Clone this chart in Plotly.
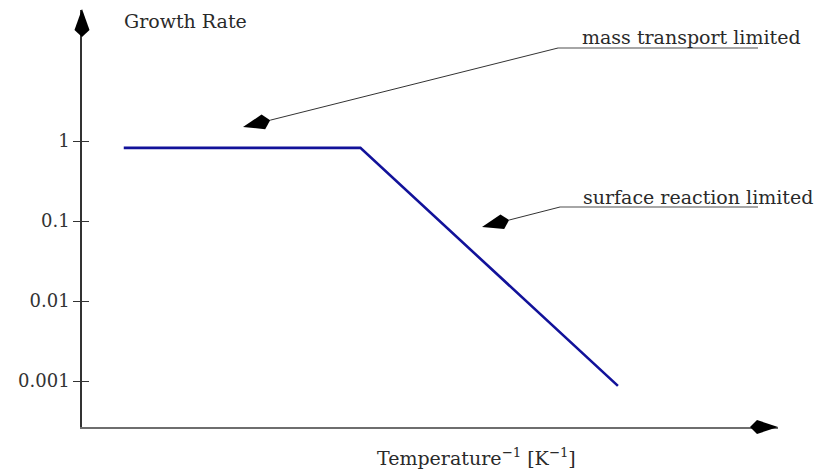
import math
import plotly.graph_objects as go

# ---- data ----
temp_inv = [0.6, 4.0, 7.7]            # arbitrary units of 1/T
growth_rate = [0.82, 0.82, 0.00087]  # growth rate (log scale)
y_tick_vals = [1, 0.1, 0.01, 0.001]
y_tick_text = ["1", "0.1", "0.01", "0.001"]
label_mass = "mass transport limited"
label_surface = "surface reaction limited"

# page body has an 8px default margin; work in screen pixels and convert
OFF = 8
W, H = 833 - OFF, 470 - OFF
PL, PR, PT, PB = 82, 778, 10, 427          # plot area in screen pixels
L, R, T, B = PL - OFF, W - (PR - OFF), PT - OFF, H - (PB - OFF)
PW, PH = PR - PL, PB - PT
FONT = "DejaVu Serif"

def px(x):
    return (x - PL) / PW

def py(y):
    return (PB - y) / PH

def kite(tip, direction, length=28, wide_at=21, half_w=7.5):
    dx, dy = direction
    n = math.hypot(dx, dy)
    dx, dy = dx / n, dy / n
    nx, ny = -dy, dx
    tx, ty = tip
    pts = [
        (tx, ty),
        (tx - wide_at * dx + half_w * nx, ty - wide_at * dy + half_w * ny),
        (tx - length * dx, ty - length * dy),
        (tx - wide_at * dx - half_w * nx, ty - wide_at * dy - half_w * ny),
    ]
    path = "M " + " L ".join(f"{px(a):.5f},{py(b):.5f}" for a, b in pts) + " Z"
    back = (tx - length * dx, ty - length * dy)
    return path, back

fig = go.Figure()
fig.add_trace(go.Scatter(x=temp_inv, y=growth_rate, mode="lines",
                         line=dict(color="#12129a", width=2.6),
                         hoverinfo="skip", showlegend=False))
# invisible trace to anchor second y axis (inner half of the crossing ticks)
fig.add_trace(go.Scatter(x=[temp_inv[0]], y=[growth_rate[0]], yaxis="y2",
                         mode="markers", marker=dict(opacity=0),
                         hoverinfo="skip", showlegend=False))

yr = [-3.575, 1.6375]
fig.update_layout(
    width=W, height=H,
    margin=dict(l=L, r=R, t=T, b=B, autoexpand=False),
    paper_bgcolor="white", plot_bgcolor="white",
    font=dict(family=FONT, size=19, color="#2a2a2a"),
    xaxis=dict(range=[0, 10], showline=True, linecolor="#6e6e6e", linewidth=2,
               showticklabels=False, ticks="", showgrid=False, zeroline=False),
    yaxis=dict(type="log", range=yr, tickvals=y_tick_vals, ticktext=y_tick_text,
               ticks="outside", ticklen=7, tickwidth=1.2, tickcolor="#333",
               showline=True, linecolor="#333", linewidth=1.5,
               showgrid=False, zeroline=False,
               tickfont=dict(family=FONT, size=18, color="#333")),
    yaxis2=dict(type="log", range=yr, overlaying="y", side="left",
                tickvals=y_tick_vals, ticks="inside", ticklen=7, tickwidth=1.2,
                tickcolor="#333", showticklabels=False, showline=False,
                showgrid=False, zeroline=False),
    showlegend=False,
)

shapes = []
# axis arrowheads
p, _ = kite((82, 9), (0, -1))
shapes.append(dict(type="path", path=p, xref="paper", yref="paper",
                   fillcolor="black", line=dict(width=0)))
p, _ = kite((778, 427), (1, 0), half_w=7)
shapes.append(dict(type="path", path=p, xref="paper", yref="paper",
                   fillcolor="black", line=dict(width=0)))

# callouts
for start, tip, end_x in [((558, 48), (243, 127), 758), ((560, 207), (482, 227), 758)]:
    p, back = kite(tip, (tip[0] - start[0], tip[1] - start[1]))
    shapes.append(dict(type="line", xref="paper", yref="paper",
                       x0=px(start[0]), y0=py(start[1]), x1=px(back[0]), y1=py(back[1]),
                       line=dict(color="#333", width=1)))
    shapes.append(dict(type="path", path=p, xref="paper", yref="paper",
                       fillcolor="black", line=dict(width=0)))
    shapes.append(dict(type="line", xref="paper", yref="paper",
                       x0=px(start[0]), y0=py(start[1]), x1=px(end_x), y1=py(start[1]),
                       line=dict(color="#888", width=1.6)))
fig.update_layout(shapes=shapes)

annots = [
    dict(text="Growth Rate", x=px(122), y=py(21), xanchor="left", yanchor="middle"),
    dict(text=label_mass, x=px(580), y=py(37), xanchor="left", yanchor="middle"),
    dict(text=label_surface, x=px(581), y=py(197), xanchor="left", yanchor="middle"),
    dict(text="Temperature<sup>−1</sup> [K<sup>−1</sup>]", x=px(476), y=py(457),
         xanchor="center", yanchor="middle"),
]
for a in annots:
    a.update(xref="paper", yref="paper", showarrow=False,
             font=dict(family=FONT, size=19, color="#2a2a2a"))
fig.update_layout(annotations=annots)

fig.write_html("out.html")
